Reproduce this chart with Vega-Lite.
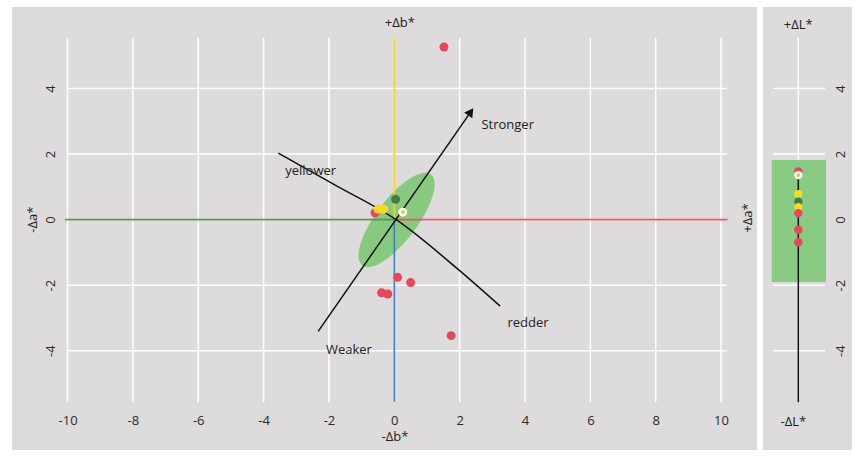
{
  "$schema": "https://vega.github.io/schema/vega-lite/v6.json",
  "background": "white",
  "padding": {"left": 12, "top": 7, "right": 3, "bottom": 6},
  "spacing": 6,
  "config": {
    "view": {"fill": "#dddbdb", "stroke": null},
    "font": "Open Sans",
    "text": {"font": "Open Sans"}
  },
  "datasets": {
    "vgrid": [{"v": -10}, {"v": -8}, {"v": -6}, {"v": -4}, {"v": -2}, {"v": 0}, {"v": 2}, {"v": 4}, {"v": 6}, {"v": 8}, {"v": 10}],
    "hgrid": [{"v": -4}, {"v": -2}, {"v": 0}, {"v": 2}, {"v": 4}],
    "sgrid": [{"v": -4}, {"v": -2}, {"v": 2}, {"v": 4}],
    "ellipse": [{"x": 0.07, "y": -0.01}],
    "axes": [
      {"axis": "+a", "x": 0, "x2": 10.2, "y": 0, "y2": 0},
      {"axis": "-a", "x": -10.08, "x2": 0, "y": 0, "y2": 0},
      {"axis": "+b", "x": 0, "x2": 0, "y": 0, "y2": 5.54},
      {"axis": "-b", "x": 0, "x2": 0, "y": -5.56, "y2": 0}
    ],
    "hue": [
      {"i": 1, "x": -3.55, "y": 2.03},
      {"i": 2, "x": -1.78, "y": 1.04},
      {"i": 3, "x": 0.07, "y": -0.01},
      {"i": 4, "x": 1.91, "y": -1.48},
      {"i": 5, "x": 3.24, "y": -2.64}
    ],
    "chroma": [
      {"i": 1, "x": -2.33, "y": -3.41},
      {"i": 2, "x": 2.34, "y": 3.29}
    ],
    "arrowhead": [{"x": 2.34, "y": 3.29}],
    "dots": [
      {"kind": "red", "x": 1.52, "y": 5.27},
      {"kind": "green", "x": 0.04, "y": 0.62},
      {"kind": "red", "x": -0.59, "y": 0.21},
      {"kind": "yellow", "x": -0.5, "y": 0.32},
      {"kind": "yellow", "x": -0.32, "y": 0.32},
      {"kind": "white", "x": 0.26, "y": 0.23},
      {"kind": "red", "x": 0.1, "y": -1.76},
      {"kind": "red", "x": 0.5, "y": -1.92},
      {"kind": "red", "x": -0.39, "y": -2.23},
      {"kind": "red", "x": -0.2, "y": -2.27},
      {"kind": "red", "x": 1.74, "y": -3.54}
    ],
    "ldots": [
      {"kind": "red", "x": 0, "y": 1.47},
      {"kind": "white", "x": 0, "y": 1.36},
      {"kind": "yellow", "x": 0, "y": 0.78},
      {"kind": "green", "x": 0, "y": 0.55},
      {"kind": "yellow", "x": 0, "y": 0.38},
      {"kind": "red", "x": 0, "y": 0.2},
      {"kind": "red", "x": 0, "y": -0.31},
      {"kind": "red", "x": 0, "y": -0.69}
    ],
    "notes": [
      {"x": 3.47, "y": 2.89, "t": "Stronger"},
      {"x": -2.56, "y": 1.49, "t": "yellower"},
      {"x": 4.09, "y": -3.15, "t": "redder"},
      {"x": -1.39, "y": -3.98, "t": "Weaker"},
      {"x": 0.17, "y": 6.0, "t": "+Δb*"},
      {"x": 0.02, "y": -6.63, "t": "-Δb*"}
    ],
    "sidenotes": [
      {"x": 10.83, "y": 0.05, "t": "+Δa*"},
      {"x": -11.06, "y": 0.0, "t": "-Δa*"}
    ],
    "lnotes": [
      {"x": 0, "y": 5.94, "t": "+ΔL*"},
      {"x": -5, "y": -6.17, "t": "-ΔL*"}
    ]
  },
  "hconcat": [
    {
      "width": 745,
      "height": 443,
      "layer": [
        {
          "data": {"name": "vgrid"},
          "mark": {"type": "rule", "color": "white", "strokeWidth": 1.5},
          "encoding": {
            "x": {
              "field": "v", "type": "quantitative",
              "scale": {"domain": [-11.7, 11.1], "nice": false, "zero": false},
              "axis": {
                "values": [-10, -8, -6, -4, -2, 0, 2, 4, 6, 8, 10],
                "orient": "bottom", "offset": -30, "domain": false, "ticks": false, "tickSize": 0,
                "grid": false, "labelPadding": 0, "labelBaseline": "middle", "labelFlush": false,
                "labelFontSize": 13, "labelColor": "#2a2a2a", "labelFont": "Open Sans", "title": null,
                "labelExpr": "datum.value < 0 ? '-' + abs(datum.value) : '' + datum.value"
              }
            },
            "y": {
              "datum": -5.57, "type": "quantitative",
              "scale": {"domain": [-7.03, 6.49], "nice": false, "zero": false},
              "axis": {
                "values": [-4, -2, 0, 2, 4],
                "orient": "left", "offset": -38, "domain": false, "ticks": false, "tickSize": 0,
                "grid": false, "labelPadding": 0, "labelAngle": 270, "labelAlign": "center",
                "labelBaseline": "middle", "labelFlush": false,
                "labelFontSize": 13, "labelColor": "#2a2a2a", "labelFont": "Open Sans", "title": null,
                "labelExpr": "datum.value < 0 ? '-' + abs(datum.value) : '' + datum.value"
              }
            },
            "y2": {"datum": 5.55}
          }
        },
        {
          "data": {"name": "hgrid"},
          "mark": {"type": "rule", "color": "white", "strokeWidth": 1.5},
          "encoding": {
            "y": {"field": "v", "type": "quantitative"},
            "x": {"datum": -10.03, "type": "quantitative"},
            "x2": {"datum": 10.18}
          }
        },
        {
          "data": {"name": "ellipse"},
          "mark": {
            "type": "point", "filled": true, "opacity": 1, "color": "#86c97f", "strokeWidth": 0, "size": 12996,
            "shape": "M0.602,-0.799C0.761,-0.679,0.620,-0.224,0.288,0.217C-0.044,0.658,-0.443,0.919,-0.602,0.799C-0.761,0.679,-0.620,0.224,-0.288,-0.217C0.044,-0.658,0.443,-0.919,0.602,-0.799Z"
          },
          "encoding": {
            "x": {"field": "x", "type": "quantitative"},
            "y": {"field": "y", "type": "quantitative"}
          }
        },
        {
          "data": {"name": "axes"},
          "mark": {"type": "rule", "strokeWidth": 1.6},
          "encoding": {
            "x": {"field": "x", "type": "quantitative"},
            "x2": {"field": "x2"},
            "y": {"field": "y", "type": "quantitative"},
            "y2": {"field": "y2"},
            "stroke": {
              "field": "axis", "type": "nominal", "legend": null,
              "scale": {"domain": ["+a", "-a", "+b", "-b"], "range": ["#e45a6a", "#5f9550", "#eed52a", "#3c80cc"]}
            }
          }
        },
        {
          "data": {"name": "hue"},
          "mark": {"type": "line", "color": "#111111", "strokeWidth": 1.5, "interpolate": "monotone"},
          "encoding": {
            "x": {"field": "x", "type": "quantitative"},
            "y": {"field": "y", "type": "quantitative"},
            "order": {"field": "i", "type": "quantitative"}
          }
        },
        {
          "data": {"name": "chroma"},
          "mark": {"type": "line", "color": "#111111", "strokeWidth": 1.5},
          "encoding": {
            "x": {"field": "x", "type": "quantitative"},
            "y": {"field": "y", "type": "quantitative"},
            "order": {"field": "i", "type": "quantitative"}
          }
        },
        {
          "data": {"name": "arrowhead"},
          "mark": {"type": "point", "shape": "triangle-up", "angle": 36, "filled": true, "color": "#111111", "opacity": 1, "size": 100},
          "encoding": {
            "x": {"field": "x", "type": "quantitative"},
            "y": {"field": "y", "type": "quantitative"}
          }
        },
        {
          "data": {"name": "dots"},
          "mark": {"type": "circle", "size": 80, "opacity": 1},
          "encoding": {
            "x": {"field": "x", "type": "quantitative"},
            "y": {"field": "y", "type": "quantitative"},
            "fill": {
              "field": "kind", "type": "nominal", "legend": null,
              "scale": {"domain": ["red", "yellow", "green", "white"], "range": ["#e8465c", "#f3dd1e", "#437a45", "#ffffff"]}
            }
          }
        },
        {
          "data": {"name": "dots"},
          "transform": [{"filter": "datum.kind === 'white'"}],
          "mark": {"type": "circle", "size": 16, "opacity": 1, "color": "#e8cf1c"},
          "encoding": {
            "x": {"field": "x", "type": "quantitative"},
            "y": {"field": "y", "type": "quantitative"}
          }
        },
        {
          "data": {"name": "notes"},
          "mark": {"type": "text", "fontSize": 13, "color": "#222222", "align": "center", "baseline": "middle"},
          "encoding": {
            "x": {"field": "x", "type": "quantitative"},
            "y": {"field": "y", "type": "quantitative"},
            "text": {"field": "t"}
          }
        },
        {
          "data": {"name": "sidenotes"},
          "mark": {"type": "text", "fontSize": 13, "color": "#222222", "align": "center", "baseline": "middle", "angle": -90},
          "encoding": {
            "x": {"field": "x", "type": "quantitative"},
            "y": {"field": "y", "type": "quantitative"},
            "text": {"field": "t"}
          }
        }
      ]
    },
    {
      "width": 89,
      "height": 443,
      "layer": [
        {
          "data": {"name": "sgrid"},
          "mark": {"type": "rule", "color": "white", "strokeWidth": 1.5},
          "encoding": {
            "y": {
              "field": "v", "type": "quantitative",
              "scale": {"domain": [-7.03, 6.49], "nice": false, "zero": false},
              "axis": {
                "values": [-4, -2, 0, 2, 4],
                "orient": "right", "offset": -12, "domain": false, "ticks": false, "tickSize": 0,
                "grid": false, "labelPadding": 0, "labelAngle": 270, "labelAlign": "center",
                "labelBaseline": "middle", "labelFlush": false,
                "labelFontSize": 13, "labelColor": "#2a2a2a", "labelFont": "Open Sans", "title": null,
                "labelExpr": "datum.value < 0 ? '-' + abs(datum.value) : '' + datum.value"
              }
            },
            "x": {"datum": -25.3, "type": "quantitative", "scale": {"domain": [-35.3, 53.7], "nice": false, "zero": false}, "axis": null},
            "x2": {"datum": 26.7}
          }
        },
        {
          "data": {"values": [{"x": 0}]},
          "mark": {"type": "rule", "color": "white", "strokeWidth": 1.5},
          "encoding": {
            "x": {"field": "x", "type": "quantitative", "axis": null},
            "y": {"datum": -5.57, "type": "quantitative"},
            "y2": {"datum": 5.55}
          }
        },
        {
          "data": {"values": [{"x": -26.6, "x2": 27.7, "y": -1.9, "y2": 1.82}]},
          "mark": {"type": "rect", "color": "#8acb83", "opacity": 1},
          "encoding": {
            "x": {"field": "x", "type": "quantitative", "axis": null},
            "x2": {"field": "x2"},
            "y": {"field": "y", "type": "quantitative"},
            "y2": {"field": "y2"}
          }
        },
        {
          "data": {"values": [{"x": 0, "y": -5.57, "y2": 1.4}]},
          "mark": {"type": "rule", "color": "#111111", "strokeWidth": 1.5},
          "encoding": {
            "x": {"field": "x", "type": "quantitative", "axis": null},
            "y": {"field": "y", "type": "quantitative"},
            "y2": {"field": "y2"}
          }
        },
        {
          "data": {"name": "ldots"},
          "mark": {"type": "circle", "size": 70, "opacity": 1},
          "encoding": {
            "x": {"field": "x", "type": "quantitative", "axis": null},
            "y": {"field": "y", "type": "quantitative"},
            "fill": {
              "field": "kind", "type": "nominal", "legend": null,
              "scale": {"domain": ["red", "yellow", "green", "white"], "range": ["#e8465c", "#f3dd1e", "#437a45", "#ffffff"]}
            }
          }
        },
        {
          "data": {"name": "ldots"},
          "transform": [{"filter": "datum.kind === 'white'"}],
          "mark": {"type": "circle", "size": 14, "opacity": 1, "color": "#e8cf1c"},
          "encoding": {
            "x": {"field": "x", "type": "quantitative", "axis": null},
            "y": {"field": "y", "type": "quantitative"}
          }
        },
        {
          "data": {"name": "lnotes"},
          "mark": {"type": "text", "fontSize": 13, "color": "#222222", "align": "center", "baseline": "middle"},
          "encoding": {
            "x": {"field": "x", "type": "quantitative", "axis": null},
            "y": {"field": "y", "type": "quantitative"},
            "text": {"field": "t"}
          }
        }
      ]
    }
  ]
}
